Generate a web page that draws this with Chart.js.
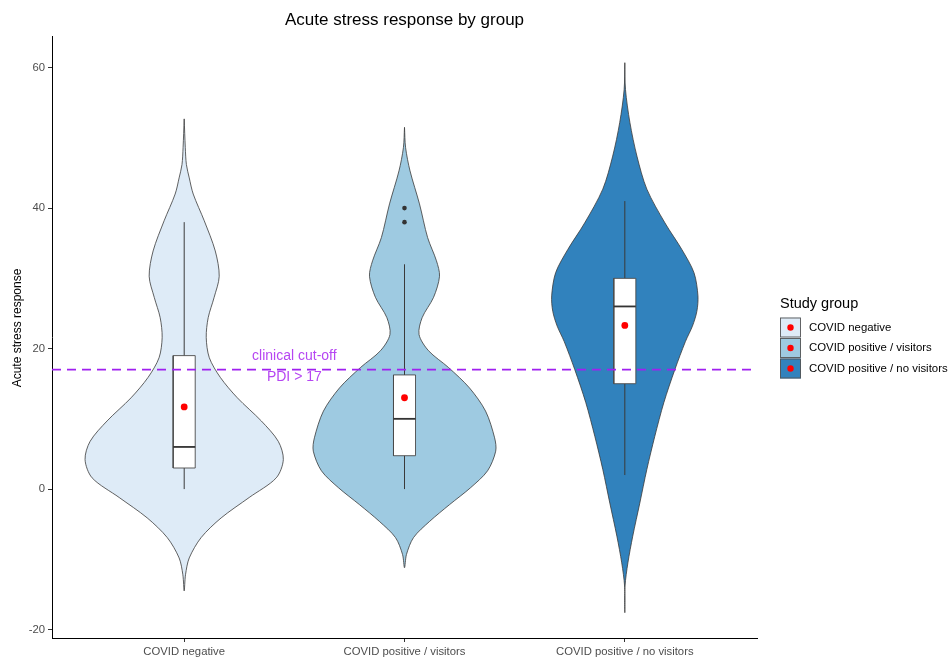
<!DOCTYPE html>
<html>
<head>
<meta charset="utf-8">
<script src="https://cdn.jsdelivr.net/npm/chart.js@4.4.1/dist/chart.umd.min.js"></script>
<style>
  html, body { margin: 0; padding: 0; background: #ffffff; }
  #wrap { width: 950px; height: 658px; position: relative; }
</style>
</head>
<body>
<div id="wrap"><canvas id="c"></canvas></div>
<script>
// ---------------- DATA ----------------
const categories = ['COVID negative', 'COVID positive / visitors', 'COVID positive / no visitors'];
const groupColors = ['#DEEBF7', '#9ECAE1', '#3182BD'];

// violin density profiles: y values (top to bottom) and half-widths (category units)
const violin1Y = [52.7, 48.6, 46.2, 44.3, 42.0, 38.2, 33.9, 30.3, 27.3, 24.4, 21.6, 18.7, 15.9, 13.0, 9.7, 6.8, 4.2, 1.6, -1.2, -4.1, -6.9, -9.8, -12.2, -14.5];
const violin1W = [0, 0.005, 0.01, 0.023, 0.041, 0.091, 0.141, 0.159, 0.136, 0.109, 0.1, 0.114, 0.164, 0.241, 0.35, 0.427, 0.45, 0.418, 0.295, 0.168, 0.077, 0.023, 0.006, 0];

const violin2Y = [51.5, 48.6, 45.3, 40.6, 35.8, 32.5, 30.3, 27.3, 24.4, 22.0, 19.7, 17.3, 14.4, 11.1, 7.3, 5.4, 2.6, 0.2, -2.2, -4.6, -6.9, -9.3, -11.2];
const violin2W = [0, 0.005, 0.025, 0.068, 0.105, 0.145, 0.159, 0.132, 0.08, 0.066, 0.109, 0.2, 0.295, 0.368, 0.409, 0.414, 0.377, 0.3, 0.205, 0.114, 0.041, 0.009, 0];

const violin3Y = [60.7, 56.9, 52.2, 47.4, 42.7, 37.9, 34.1, 30.8, 27.5, 25.3, 23.2, 21.0, 17.0, 12.3, 7.5, 2.8, -2.0, -6.7, -10.5, -13.8, -17.6];
const violin3W = [0, 0.003, 0.023, 0.055, 0.1, 0.182, 0.259, 0.314, 0.332, 0.327, 0.307, 0.275, 0.227, 0.177, 0.136, 0.1, 0.068, 0.036, 0.014, 0.001, 0];

// box plot statistics
const whiskerLow  = [0, 0, 2];
const quartile1   = [3, 4.75, 15];
const medians     = [6, 10, 26];
const quartile3   = [19, 16.25, 30];
const whiskerHigh = [38, 32, 41];
const means       = [11.7, 13.0, 23.3];
const outlierGroup  = [2, 2];
const outlierValues = [40, 38];

const cutoffValue = 17;
const yTickValues = [-20, 0, 20, 40, 60];

// ---------------- BUILD ----------------
const FONT = "'Liberation Sans', Arial, Helvetica, sans-serif";
const BOX_HALF = 0.05;
const violinYs = [violin1Y, violin2Y, violin3Y];
const violinWs = [violin1W, violin2W, violin3W];

function violinPolygon(pos, ys, ws) {
  const pts = [];
  for (let i = 0; i < ys.length; i++) pts.push({ x: pos + ws[i], y: ys[i] });
  for (let i = ys.length - 2; i >= 0; i--) pts.push({ x: pos - ws[i], y: ys[i] });
  return pts;
}

const datasets = [];

// cut-off line
datasets.push({
  type: 'line', data: [{ x: 0.4, y: cutoffValue }, { x: 3.6, y: cutoffValue }],
  borderColor: '#A020F0', borderWidth: 1.6, borderDash: [9, 6], pointRadius: 0, fill: false, order: 0
});
// means
datasets.push({
  type: 'line', showLine: false, data: means.map((m, i) => ({ x: i + 1, y: m })),
  pointRadius: 3.4, pointBackgroundColor: '#FF0000', pointBorderColor: '#FF0000', pointBorderWidth: 0, order: 1
});
// outliers
datasets.push({
  type: 'line', showLine: false, data: outlierValues.map((v, i) => ({ x: outlierGroup[i], y: v })),
  pointRadius: 2.3, pointBackgroundColor: '#333333', pointBorderColor: '#333333', pointBorderWidth: 0, order: 1
});

for (let g = 0; g < 3; g++) {
  const p = g + 1;
  // median
  datasets.push({
    type: 'line', data: [{ x: p - BOX_HALF, y: medians[g] }, { x: p + BOX_HALF, y: medians[g] }],
    borderColor: '#333333', borderWidth: 1.8, pointRadius: 0, fill: false, order: 2
  });
  // box
  datasets.push({
    type: 'line',
    data: [
      { x: p - BOX_HALF, y: quartile1[g] }, { x: p + BOX_HALF, y: quartile1[g] },
      { x: p + BOX_HALF, y: quartile3[g] }, { x: p - BOX_HALF, y: quartile3[g] },
      { x: p - BOX_HALF, y: quartile1[g] }
    ],
    borderColor: '#4a4a4a', borderWidth: 0.9, backgroundColor: '#FFFFFF', fill: 'shape',
    pointRadius: 0, tension: 0, order: 3
  });
  // whisker
  datasets.push({
    type: 'line', data: [{ x: p, y: whiskerLow[g] }, { x: p, y: whiskerHigh[g] }],
    borderColor: '#3a3a3a', borderWidth: 1, pointRadius: 0, fill: false, order: 4
  });
  // violin
  datasets.push({
    type: 'line', data: violinPolygon(p, violinYs[g], violinWs[g]),
    borderColor: '#3a3a3a', borderWidth: 0.8, backgroundColor: groupColors[g], fill: 'shape',
    pointRadius: 0, tension: 0.3, order: 5
  });
}

const decorPlugin = {
  id: 'decor',
  afterDraw(chart) {
    const ctx = chart.ctx;
    const xs = chart.scales.x, ys = chart.scales.y;
    const area = chart.chartArea;
    ctx.save();
    // title
    ctx.fillStyle = '#000000';
    ctx.font = '17px ' + FONT;
    ctx.textAlign = 'center';
    ctx.textBaseline = 'middle';
    ctx.fillText('Acute stress response by group', (area.left + area.right) / 2, 20);
    // y title
    ctx.save();
    ctx.translate(18, (area.top + area.bottom) / 2 - 9);
    ctx.rotate(-Math.PI / 2);
    ctx.font = '12px ' + FONT;
    ctx.fillText('Acute stress response', 0, 0);
    ctx.restore();
    // annotation
    const ax = xs.getPixelForValue(1.5);
    const ay = ys.getPixelForValue(cutoffValue);
    ctx.fillStyle = '#B646F2';
    ctx.font = '14px ' + FONT;
    ctx.fillText('clinical cut-off', ax, ay - 13.5);
    ctx.fillText('PDI > 17', ax, ay + 7.5);
    // legend
    ctx.textAlign = 'left';
    ctx.fillStyle = '#000000';
    ctx.font = '14.5px ' + FONT;
    ctx.fillText('Study group', 780, 304);
    ctx.font = '11.4px ' + FONT;
    for (let g = 0; g < 3; g++) {
      const ky = 317.5 + g * 20.5;
      ctx.fillStyle = groupColors[g];
      ctx.fillRect(780, ky, 21, 20);
      ctx.strokeStyle = '#555555';
      ctx.lineWidth = 0.9;
      ctx.strokeRect(780.5, ky + 0.5, 20, 19);
      ctx.fillStyle = '#FF0000';
      ctx.beginPath();
      ctx.arc(790.5, ky + 10, 3.2, 0, Math.PI * 2);
      ctx.fill();
      ctx.fillStyle = '#000000';
      ctx.fillText(categories[g], 809, ky + 10);
    }
    ctx.restore();
  }
};

new Chart(document.getElementById('c'), {
  type: 'line',
  data: { datasets },
  plugins: [decorPlugin],
  options: {
    responsive: true,
    maintainAspectRatio: false,
    animation: false,
    parsing: { xAxisKey: 'x', yAxisKey: 'y' },
    layout: { padding: { left: 0, top: 36, right: 193, bottom: 0 } },
    plugins: { legend: { display: false }, tooltip: { enabled: false }, title: { display: false } },
    elements: { line: { capBezierPoints: false } },
    scales: {
      x: {
        type: 'linear', min: 0.4, max: 3.6,
        afterBuildTicks(scale) { scale.ticks = [1, 2, 3].map(v => ({ value: v })); },
        afterFit(scale) { scale.height = 20; },
        ticks: {
          autoSkip: false, maxRotation: 0, padding: 3,
          color: '#4D4D4D', font: { family: FONT, size: 11.3 },
          callback: (v) => categories[Math.round(v) - 1]
        },
        grid: { display: true, drawOnChartArea: false, drawTicks: true, tickLength: 4, tickColor: '#333333', tickWidth: 1 },
        border: { display: true, color: '#000000', width: 1 }
      },
      y: {
        type: 'linear', min: -21.2, max: 64.5,
        afterBuildTicks(scale) { scale.ticks = yTickValues.map(v => ({ value: v })); },
        afterFit(scale) { scale.width = 52; },
        ticks: {
          padding: 3, color: '#4D4D4D', font: { family: FONT, size: 11.3 },
          callback: (v) => String(v)
        },
        grid: { display: true, drawOnChartArea: false, drawTicks: true, tickLength: 4, tickColor: '#333333', tickWidth: 1 },
        border: { display: true, color: '#000000', width: 1 }
      }
    }
  }
});
</script>
</body>
</html>
